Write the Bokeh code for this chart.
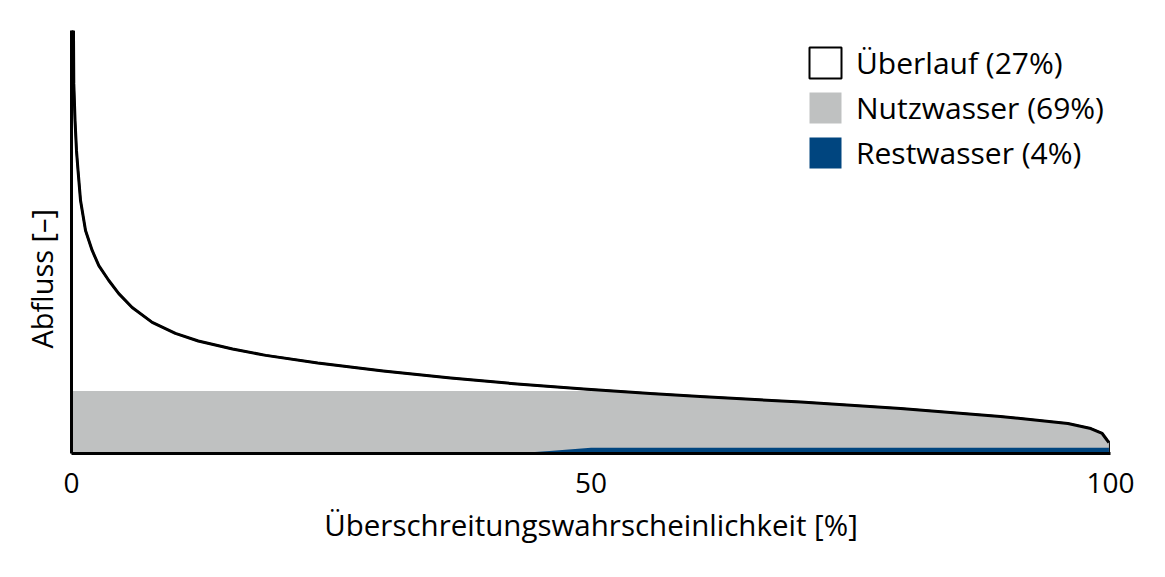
from bokeh.plotting import figure
from bokeh.models import Legend, LegendItem, Title, FixedTicker, Range1d
from bokeh.embed import file_html
from bokeh.resources import INLINE

# Dauerlinie des Abflusses
flow_x = [0.19, 0.22, 0.34, 0.48, 0.63, 0.87, 1.35, 1.99, 2.63, 3.59, 4.55, 5.84,
          7.77, 10.0, 12.2, 15.5, 18.7, 23.7, 30.0, 36.5, 42.9, 49.3, 55.7, 60.5,
          70.2, 79.8, 89.4, 95.9, 98.1, 99.2, 99.7, 99.85]
flow_y = [100, 87.5, 78.7, 71.6, 66.9, 59.8, 52.7, 48.0, 44.4, 40.9, 37.8, 34.5,
          31.0, 28.4, 26.6, 24.7, 23.2, 21.4, 19.5, 17.85, 16.43, 15.25, 14.18, 13.48,
          12.17, 10.64, 8.75, 7.09, 5.91, 4.73, 3.07, 2.6]

# Nutzwasser (Ausbauwassermenge, danach begrenzt durch den Abfluss)
nutz_x = [0, 51.6, 55.7, 60.5, 70.2, 79.8, 89.4, 95.9, 98.1, 99.2, 99.7, 99.85]
nutz_y = [14.8, 14.8, 14.18, 13.48, 12.17, 10.64, 8.75, 7.09, 5.91, 4.73, 3.07, 2.6]

# Restwasser
rest_x = [42.5, 46.0, 50.0, 99.85]
rest_y = [0, 0.6, 1.35, 1.35]

x_ticks = [0, 50, 100]
labels = ["Überlauf (27%)", "Nutzwasser (69%)", "Restwasser (4%)"]

FONT = "Open Sans"
GRAY = "#bfc1c1"
BLUE = "#00457f"

p = figure(width=1150, height=569, output_backend="svg", toolbar_location=None,
           x_range=Range1d(0, 100), y_range=Range1d(0, 100),
           min_border_left=71, min_border_right=40, min_border_top=30, min_border_bottom=116)
p.outline_line_color = None
p.xgrid.visible = False
p.ygrid.visible = False

# gesamte Fläche unter der Dauerlinie = Überlauf (weiss), darüber Nutz- und Restwasser
ueber = p.patch(x=[0] + flow_x + [flow_x[-1], 0], y=[100] + flow_y + [0, 0],
                fill_color="white", line_color="black", line_width=2)
nutz = p.varea(x=nutz_x, y1=0, y2=nutz_y, fill_color=GRAY)
rest = p.varea(x=rest_x, y1=0, y2=rest_y, fill_color=BLUE)
p.line(flow_x, flow_y, line_color="black", line_width=3, line_join="round")

# Achsen
p.xaxis.ticker = FixedTicker(ticks=x_ticks)
p.xaxis.axis_line_width = 3
p.xaxis.axis_line_color = "black"
p.xaxis.major_tick_line_color = None
p.xaxis.minor_tick_line_color = None
p.xaxis.major_tick_out = 0
p.xaxis.major_label_text_font = FONT
p.xaxis.major_label_text_font_size = "28px"
p.xaxis.major_label_text_color = "black"
p.xaxis.major_label_standoff = 19
p.xaxis.axis_label = "Überschreitungswahrscheinlichkeit [%]"
p.xaxis.axis_label_text_font = FONT
p.xaxis.axis_label_text_font_size = "29.5px"
p.xaxis.axis_label_text_font_style = "normal"
p.xaxis.axis_label_text_color = "black"
p.xaxis.axis_label_standoff = 8

p.yaxis.ticker = FixedTicker(ticks=[])
p.yaxis.axis_line_width = 3
p.yaxis.axis_line_color = "black"
p.yaxis.major_tick_line_color = None
p.yaxis.minor_tick_line_color = None
p.yaxis.major_tick_out = 0
p.yaxis.major_label_standoff = 0

ylab = Title(text="Abfluss [–]", align="left", offset=105, standoff=21,
             text_font=FONT, text_font_size="29px", text_font_style="normal",
             text_color="black")
p.add_layout(ylab, "left")

legend = Legend(items=[LegendItem(label=labels[0], renderers=[ueber]),
                       LegendItem(label=labels[1], renderers=[nutz]),
                       LegendItem(label=labels[2], renderers=[rest])],
                location=(734, 280), padding=0, margin=0, spacing=4,
                glyph_width=40, glyph_height=39, label_standoff=11,
                label_text_font=FONT, label_text_font_size="30px",
                label_text_color="black",
                border_line_color=None, background_fill_alpha=0)
p.add_layout(legend)

open("out.html", "w").write(file_html(p, INLINE))
